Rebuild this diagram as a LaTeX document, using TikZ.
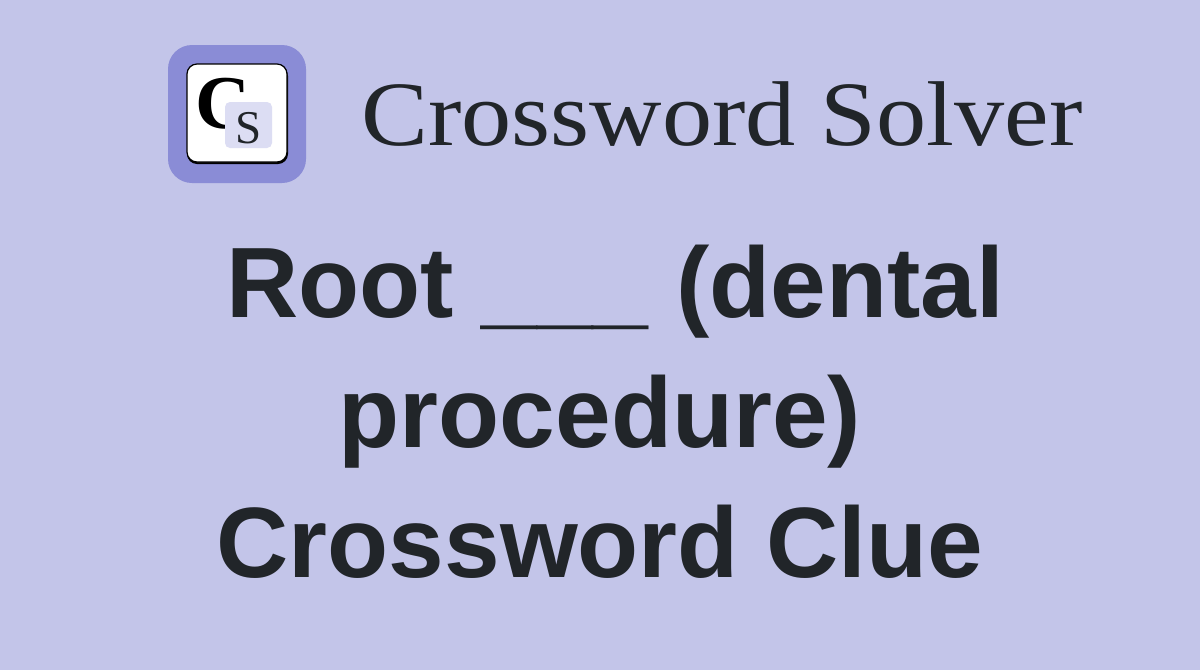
\documentclass[tikz,border=0pt]{standalone}
\usepackage{fontspec}
\setmainfont{Liberation Sans}
\newfontfamily\logofont{Liberation Serif}
\newfontfamily\brandfont[FakeStretch=1.09]{Liberation Serif}
\definecolor{bgcol}{HTML}{C3C5E9}
\definecolor{iconcol}{HTML}{8A8CD6}
\definecolor{inkcol}{HTML}{212529}
\definecolor{chipcol}{HTML}{DCDDF3}
\begin{document}
\begin{tikzpicture}[x=1pt,y=-1pt]
    \tikzset{
      headline/.style={font=\fontsize{100}{100}\bfseries\selectfont,text=inkcol,inner sep=0pt,anchor=base},
      brand/.style={font=\brandfont\fontsize{92}{92}\selectfont,text=inkcol,inner sep=0pt,anchor=base west}
    }
    \fill [bgcol] (0,0) rectangle (1200,670);
    \useasboundingbox (0,0) rectangle (1200,670);

    \fill [iconcol,rounded corners=24pt] (168,45) rectangle (306,183);
    \fill [black,rounded corners=10pt] (187,66) rectangle (288,164);
    \filldraw [fill=white,draw=black,line width=1.2pt,rounded corners=10pt] (187,64) rectangle (287,162);
    \node (letterC) [font=\logofont\bfseries\fontsize{76}{76}\selectfont,inner sep=0pt,anchor=base] at (223,128) {C};
    \fill [chipcol,rounded corners=5pt] (225,102) rectangle (272,148);
    \node (letterS) [font=\logofont\fontsize{47}{47}\selectfont,text=inkcol,inner sep=0pt,anchor=base] at (249,143) {S};

    \node (brandname) [brand] at (361,145) {Crossword Solver};

    \node (lineA) [headline] at (615,317) {Root \_\_\_ (dental};
    \node (lineB) [headline] at (600,447) {procedure)};
    \node (lineC) [headline] at (600,577) {Crossword Clue};
\end{tikzpicture}
\end{document}
